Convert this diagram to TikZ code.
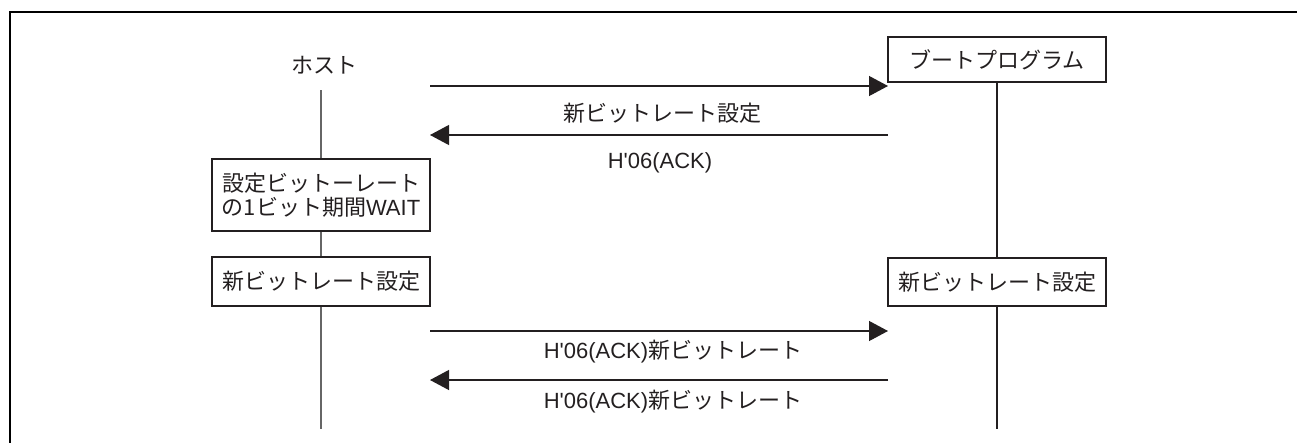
\documentclass[tikz,border=0pt]{standalone}
\usepackage{fontspec}
\setmainfont{Noto Sans CJK JP}
\newfontfamily\lat{Liberation Sans}
\usetikzlibrary{arrows.meta}
\definecolor{ink}{HTML}{231F20}
\begin{document}
\begin{tikzpicture}[x=1pt,y=-1pt,
  every node/.style={font=\fontsize{22}{25}\selectfont, text=ink},
  boxnode/.style={draw=ink, line width=1.6pt, minimum width=218pt, inner sep=0pt, align=center},
  lbl/.style={inner sep=0pt},
  msg/.style={draw=ink, line width=1.2pt, -{Triangle[length=19pt,width=20pt]}},
  life/.style={line width=1.3pt},
]
\useasboundingbox (0,0) rectangle (1297,442);
% frame
\draw[line width=2pt, black] (10,443) -- (10,12) -- (1298,12);

% participants
\node[lbl] (host) at (324,65) {ホスト};
\node[boxnode, minimum height=45pt] (boot) at (997,59.5) {ブートプログラム};

% host boxes
\node[boxnode, minimum height=72pt] (hw) at (321,195) {設定ビットーレート\\[-1pt]の1ビット期間{\lat WAIT}};
\node[boxnode, minimum height=49pt] (hs) at (321,281.5) {新ビットレート設定};
\node[boxnode, minimum height=48pt] (bs) at (997,282) {新ビットレート設定};

% lifelines
\coordinate (h0) at (321,90);
\coordinate (hend) at (321,429);
\coordinate (bend) at (997,429);
\draw[life, draw=black!60] (h0) -- (hw);
\draw[life, draw=black!60] (hw) -- (hs);
\draw[life, draw=black!60] (hs) -- (hend);
\draw[life, draw=ink] (boot) -- (bs);
\draw[life, draw=ink] (bs) -- (bend);

% messages
\coordinate (a1l) at (430,86);   \coordinate (a1r) at (888,86);
\coordinate (a2l) at (430,135);  \coordinate (a2r) at (888,135);
\coordinate (a3l) at (430,331);  \coordinate (a3r) at (888,331);
\coordinate (a4l) at (430,380);  \coordinate (a4r) at (888,380);
\draw[msg] (a1l) -- (a1r);
\draw[msg] (a2r) -- (a2l);
\draw[msg] (a3l) -- (a3r);
\draw[msg] (a4r) -- (a4l);

% labels
\node[lbl] (l1) at (662,113) {新ビットレート設定};
\node[lbl] (l2) at (660,163) {\lat H'06(ACK)};
\node[lbl] (l3) at (673,352) {{\lat H'06(ACK)}新ビットレート};
\node[lbl] (l4) at (673,402) {{\lat H'06(ACK)}新ビットレート};
\end{tikzpicture}
\end{document}
